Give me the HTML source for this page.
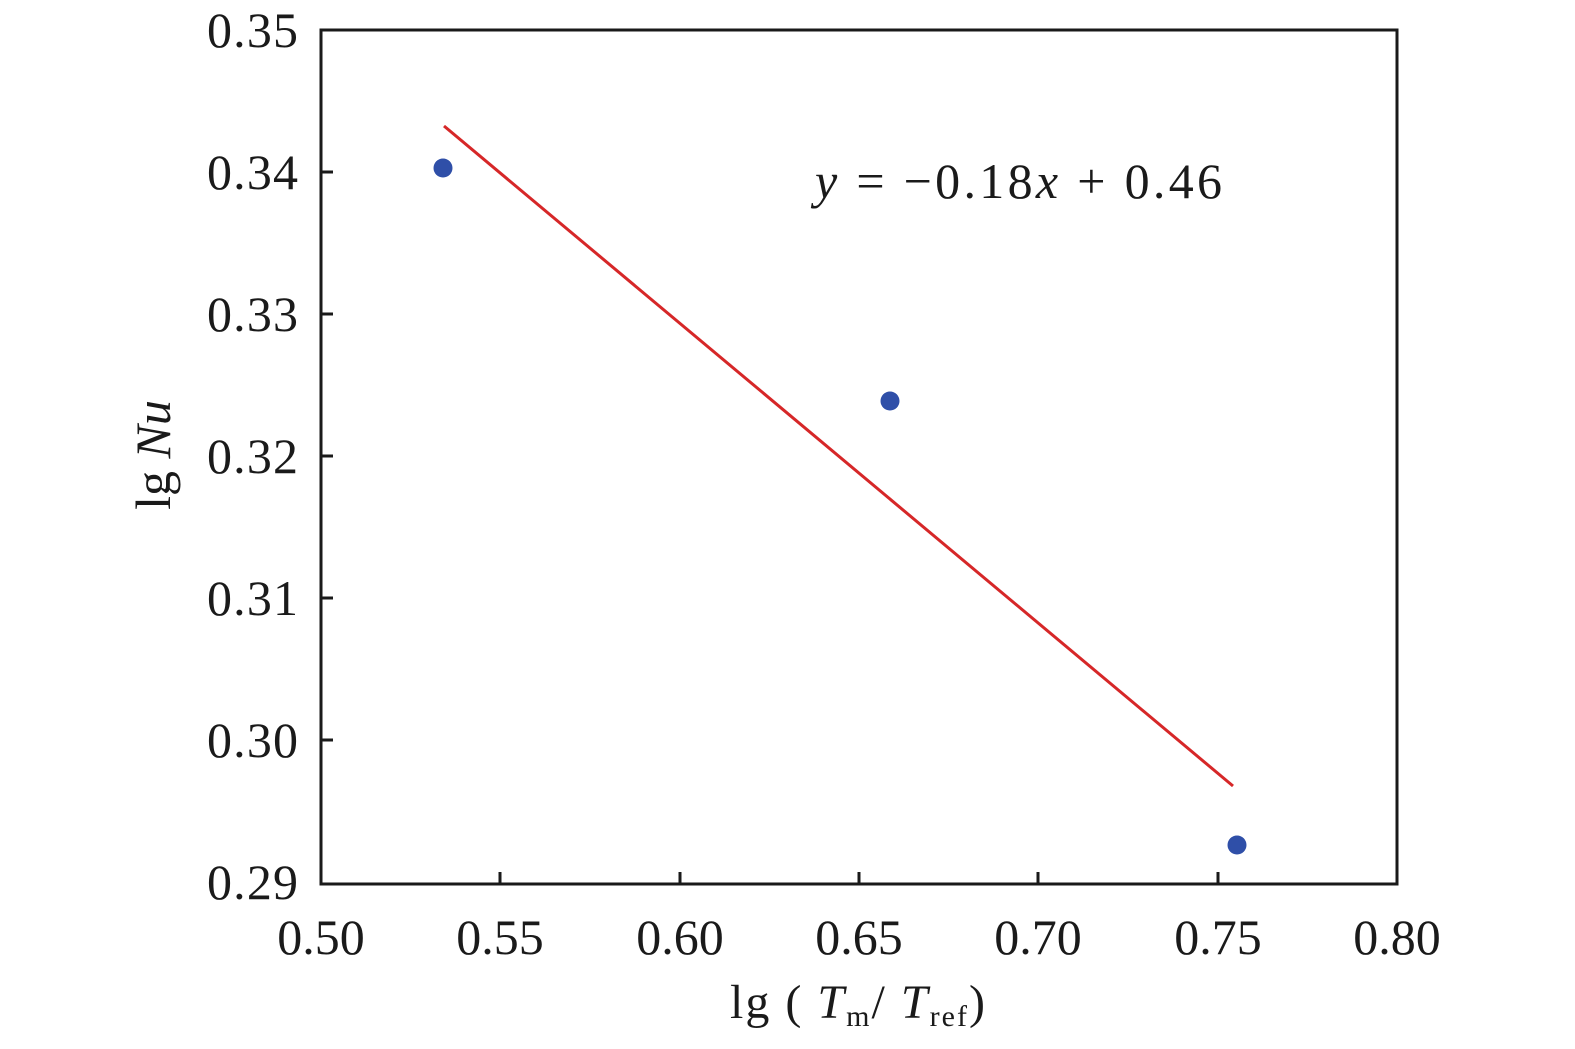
<!DOCTYPE html>
<html><head><meta charset="utf-8"><style>
html,body{margin:0;padding:0;background:#fff;}
svg text{font-family:"Liberation Serif",serif;fill:#1a1a1a;}
</style></head><body>
<svg width="1575" height="1044" viewBox="0 0 1575 1044" xmlns="http://www.w3.org/2000/svg">
<rect width="1575" height="1044" fill="#fff"/>
<g stroke="#1a1a1a" stroke-width="3">
<rect x="321" y="30" width="1076" height="854" fill="none"/>
<line x1="500" y1="884" x2="500" y2="872"/>
<line x1="680" y1="884" x2="680" y2="872"/>
<line x1="859" y1="884" x2="859" y2="872"/>
<line x1="1038" y1="884" x2="1038" y2="872"/>
<line x1="1218" y1="884" x2="1218" y2="872"/>
<line x1="321" y1="172" x2="333" y2="172"/>
<line x1="321" y1="314" x2="333" y2="314"/>
<line x1="321" y1="456" x2="333" y2="456"/>
<line x1="321" y1="598" x2="333" y2="598"/>
<line x1="321" y1="740" x2="333" y2="740"/>
</g>
<g font-size="50" text-anchor="end">
<text x="298" y="47" textLength="91">0.35</text>
<text x="298" y="189" textLength="91">0.34</text>
<text x="298" y="331" textLength="91">0.33</text>
<text x="298" y="473" textLength="91">0.32</text>
<text x="298" y="615" textLength="91">0.31</text>
<text x="298" y="757" textLength="91">0.30</text>
<text x="298" y="899" textLength="91">0.29</text>
</g>
<g font-size="50" text-anchor="middle">
<text x="321" y="954">0.50</text>
<text x="500" y="954">0.55</text>
<text x="680" y="954">0.60</text>
<text x="859" y="954">0.65</text>
<text x="1038" y="954">0.70</text>
<text x="1218" y="954">0.75</text>
<text x="1397" y="954">0.80</text>
</g>
<text x="730" y="1018" font-size="48" textLength="255" lengthAdjust="spacing">lg ( <tspan font-style="italic">T</tspan><tspan font-size="30" dy="8">m</tspan><tspan dy="-8">/ </tspan><tspan font-style="italic">T</tspan><tspan font-size="30" dy="8">ref</tspan><tspan dy="-8">)</tspan></text>
<text transform="translate(170,455) rotate(-90)" font-size="50" text-anchor="middle">lg <tspan font-style="italic">Nu</tspan></text>
<text x="815" y="198" font-size="50" textLength="407" lengthAdjust="spacing"><tspan font-style="italic">y</tspan> = −0.18<tspan font-style="italic">x</tspan> + 0.46</text>
<line x1="444" y1="126" x2="1233" y2="786" stroke="#d62728" stroke-width="3"/>
<g fill="#2f4fa8">
<circle cx="443" cy="168" r="9.5"/>
<circle cx="890" cy="401" r="9.5"/>
<circle cx="1237" cy="845" r="9.5"/>
</g>
</svg>
</body></html>
